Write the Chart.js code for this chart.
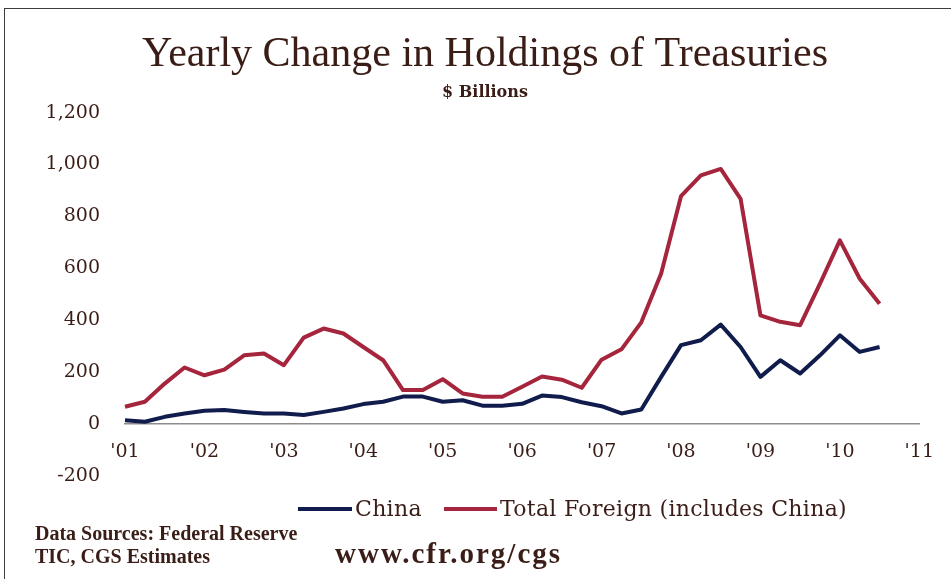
<!DOCTYPE html>
<html>
<head>
<meta charset="utf-8">
<script src="https://cdn.jsdelivr.net/npm/chart.js@4.4.0/dist/chart.umd.min.js"></script>
<style>
  html, body { margin: 0; padding: 0; background: #ffffff; }
  #wrap { position: relative; width: 951px; height: 579px; overflow: hidden; font-family: "Liberation Serif", "DejaVu Serif", serif; color: #3a1d16; }
  #frame { position: absolute; left: 4px; top: 8px; width: 980px; height: 620px; border-left: 1.5px solid #3c3c3c; border-top: 1.5px solid #3c3c3c; }
  canvas { position: absolute; left: 0; top: 0; }
  .t { position: absolute; white-space: nowrap; line-height: 1; }
  .leg { font-family: "DejaVu Serif", serif; font-size: 22px; letter-spacing: 0.3px; }
  .sw { position: absolute; height: 4px; }
</style>
</head>
<body>
<div id="wrap">
  <canvas id="c" width="951" height="579"></canvas>
  <div id="frame"></div>
  <div class="sw" id="swChina" style="left:298px; top:507px; width:54px;"></div>
  <div class="t leg" style="left:355px; top:498px;">China</div>
  <div class="sw" id="swTotal" style="left:444px; top:507px; width:53px;"></div>
  <div class="t leg" style="left:500px; top:498px;">Total Foreign (includes China)</div>
  <div class="t" style="left:35px; top:523px; font-size:20px; font-weight:bold;">Data Sources: Federal Reserve</div>
  <div class="t" style="left:35px; top:546px; font-size:20px; font-weight:bold;">TIC, CGS Estimates</div>
  <div class="t" style="left:335px; top:539px; font-size:29px; font-weight:bold; letter-spacing:2px;">www.cfr.org/cgs</div>
</div>
<script>
// ---- data (quarterly, 2001 Q1 .. 2010 Q3), $ billions ----
const yearLabels = ["'01", "'02", "'03", "'04", "'05", "'06", "'07", "'08", "'09", "'10", "'11"];
const china = [15, 9, 28, 41, 51, 54, 47, 41, 41, 35, 47, 60, 77, 86, 106, 106, 86, 92, 71, 71,
               78, 110, 104, 84, 69, 41, 56, 182, 304, 323, 383, 297, 182, 246, 195, 265, 342, 278, 297];
const totalForeign = [67, 86, 156, 218, 188, 210, 265, 272, 227, 333, 368, 349, 297, 246, 131, 131, 173, 118, 105, 105,
                      144, 183, 171, 140, 248, 288, 392, 580, 878, 958, 983, 868, 419, 394, 381, 541, 708, 560, 464];
const yTicks = [-200, 0, 200, 400, 600, 800, 1000, 1200];

const NAVY = '#101c4c';
const RED = '#a5253c';
const TEXT = '#3a1d16';
const SERIF = '"Liberation Serif", "DejaVu Serif", serif';
const WIDE = '"DejaVu Serif", serif';

document.getElementById('swChina').style.background = NAVY;
document.getElementById('swTotal').style.background = RED;

// quarter categories from '01 to '11 (first quarter of each year carries the year label)
const quarters = [];
yearLabels.forEach((y, i) => {
  const n = (i === yearLabels.length - 1) ? 1 : 4;
  for (let q = 1; q <= n; q++) quarters.push(y + ' Q' + q);
});

new Chart(document.getElementById('c').getContext('2d'), {
  type: 'line',
  data: {
    labels: quarters,
    datasets: [
      { label: 'China', data: china, borderColor: NAVY, backgroundColor: NAVY, borderWidth: 4, pointRadius: 0, tension: 0, fill: false, borderJoinStyle: 'round' },
      { label: 'Total Foreign (includes China)', data: totalForeign, borderColor: RED, backgroundColor: RED, borderWidth: 4, pointRadius: 0, tension: 0, fill: false, borderJoinStyle: 'round' }
    ]
  },
  options: {
    responsive: false,
    animation: false,
    layout: { padding: { left: 40, right: 21, top: 0, bottom: 103 } },
    plugins: {
      legend: { display: false },
      tooltip: { enabled: false },
      title: {
        display: true,
        text: 'Yearly Change in Holdings of Treasuries',
        color: TEXT,
        font: { family: SERIF, size: 42, weight: 'normal' },
        padding: { top: 30, bottom: 0 }
      },
      subtitle: {
        display: true,
        text: '$ Billions',
        color: TEXT,
        font: { family: WIDE, size: 16, weight: 'bold' },
        padding: { top: 3, bottom: 10 }
      }
    },
    scales: {
      x: {
        position: { y: 0 },
        offset: false,
        grid: { display: false, drawTicks: false },
        border: { display: true, color: '#8c8c8c', width: 1.5 },
        ticks: {
          autoSkip: false,
          maxRotation: 0,
          padding: 17,
          color: TEXT,
          font: { family: WIDE, size: 19 },
          callback: function (v, i) { return i % 4 === 0 ? yearLabels[i / 4] : ''; }
        }
      },
      y: {
        min: -200,
        max: 1200,
        afterFit: function (s) { s.width = 85; },
        afterBuildTicks: function (s) { s.ticks = yTicks.map(v => ({ value: v })); },
        grid: { display: false, drawTicks: false },
        border: { display: false },
        ticks: {
          padding: 25,
          color: TEXT,
          font: { family: WIDE, size: 19 },
          callback: function (v) { return Number(v).toLocaleString('en-US'); }
        }
      }
    }
  }
});
</script>
</body>
</html>
